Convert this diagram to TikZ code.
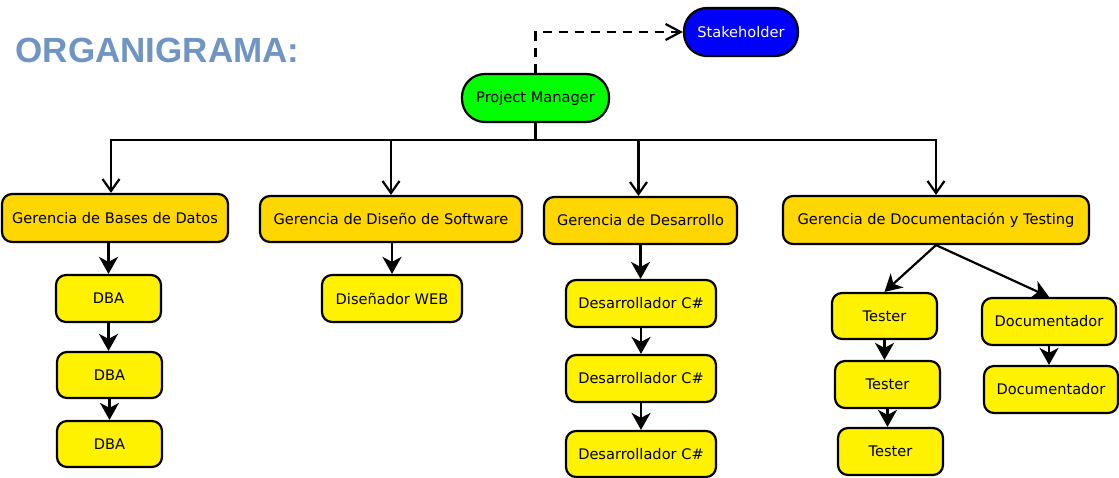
\documentclass[tikz,border=0pt]{standalone}
\usepackage{fontspec}
\setmainfont{DejaVu Sans}
\newfontfamily\titlefont{Liberation Sans}
\usetikzlibrary{arrows.meta}
\definecolor{titleblue}{RGB}{112,148,196}
\definecolor{gold}{RGB}{255,215,0}
\definecolor{pmgreen}{RGB}{0,255,0}
\definecolor{shblue}{RGB}{0,0,255}
\begin{document}
\begin{tikzpicture}[x=1pt,y=-1pt,
  font=\fontsize{14.6}{16}\selectfont,
  box/.style={draw=black, line width=2.2pt, rounded corners=10pt, inner sep=0pt, align=center},
  pill/.style={box, rounded corners=23pt},
  mgr/.style={box, fill=gold},
  role/.style={box, fill=yellow},
  link/.style={line width=2.2pt, -{Stealth[length=17pt,width=19pt,inset=5pt]}},
  branch/.style={line width=2.2pt, -{Straight Barb[length=12pt,width=17pt]}},
  dashlink/.style={line width=2.2pt, dash pattern=on 9pt off 7pt, -{Straight Barb[length=15pt,width=16pt]}}
]
\useasboundingbox (0,0) rectangle (1119,478);

\node[anchor=base west, text=titleblue, font=\titlefont\fontsize{35}{40}\selectfont\bfseries] (title) at (12,63) {ORGANIGRAMA:};

\node[pill, fill=shblue, text=white, minimum width=114pt, minimum height=48pt] (sh) at (741,32) {Stakeholder};
\node[pill, fill=pmgreen, minimum width=147pt, minimum height=48pt] (pm) at (535.5,98) {Project Manager};

\node[mgr, minimum width=226pt, minimum height=48pt] (gbd) at (115,218) {Gerencia de Bases de Datos};
\node[mgr, minimum width=262pt, minimum height=46pt] (gdis) at (391,219) {Gerencia de Diseño de Software};
\node[mgr, minimum width=193pt, minimum height=47pt] (gdes) at (640.5,220.5) {Gerencia de Desarrollo};
\node[mgr, minimum width=306pt, minimum height=48pt] (gdt) at (936,220) {Gerencia de Documentación y Testing};

\node[role, minimum width=105pt, minimum height=47pt] (dba1) at (108.5,298.5) {DBA};
\node[role, minimum width=105pt, minimum height=46pt] (dba2) at (109.5,375) {DBA};
\node[role, minimum width=105pt, minimum height=46pt] (dba3) at (109.5,444) {DBA};

\node[role, minimum width=140pt, minimum height=47pt] (web) at (392,298.5) {Diseñador WEB};

\node[role, minimum width=150pt, minimum height=47pt] (cs1) at (641,303.5) {Desarrollador C\#};
\node[role, minimum width=150pt, minimum height=47pt] (cs2) at (641,378.5) {Desarrollador C\#};
\node[role, minimum width=150pt, minimum height=46pt] (cs3) at (641,454) {Desarrollador C\#};

\node[role, minimum width=105pt, minimum height=46pt] (t1) at (884.5,316) {Tester};
\node[role, minimum width=105pt, minimum height=47pt] (t2) at (887.5,384.5) {Tester};
\node[role, minimum width=105pt, minimum height=47pt] (t3) at (890.5,451.5) {Tester};

\node[role, minimum width=134pt, minimum height=47pt] (d1) at (1049,321.5) {Documentador};
\node[role, minimum width=134pt, minimum height=47pt] (d2) at (1051,389.5) {Documentador};

% top connectors
\coordinate (bar) at (535.5,140);
\draw[dashlink] (pm.north) |- (sh.west);
\draw[line width=2.2pt] (pm.south) -- (bar);
\draw[branch] (bar) -| ([xshift=-4pt]gbd.north);
\draw[branch] (bar) -| (gdis.north);
\draw[branch] (bar) -| ([xshift=-2pt]gdes.north);
\draw[branch] (bar) -| (gdt.north);

% column connectors
\draw[link] (dba1.north |- gbd.south) -- (dba1.north);
\draw[link] (dba1.south) -- (dba1.south |- dba2.north);
\draw[link] (dba2.south) -- (dba3.north);
\draw[link] (web.north |- gdis.south) -- (web.north);
\draw[link] (gdes.south) -- (gdes.south |- cs1.north);
\draw[link] (cs1.south) -- (cs2.north);
\draw[link] (cs2.south) -- (cs3.north);
\draw[link] (gdt.south) -- (t1.north);
\draw[link] (gdt.south) -- (d1.north);
\draw[link] (t1.south) -- (t1.south |- t2.north);
\draw[link] (t2.south) -- (t2.south |- t3.north);
\draw[link] (d1.south) -- (d1.south |- d2.north);
\end{tikzpicture}
\end{document}
